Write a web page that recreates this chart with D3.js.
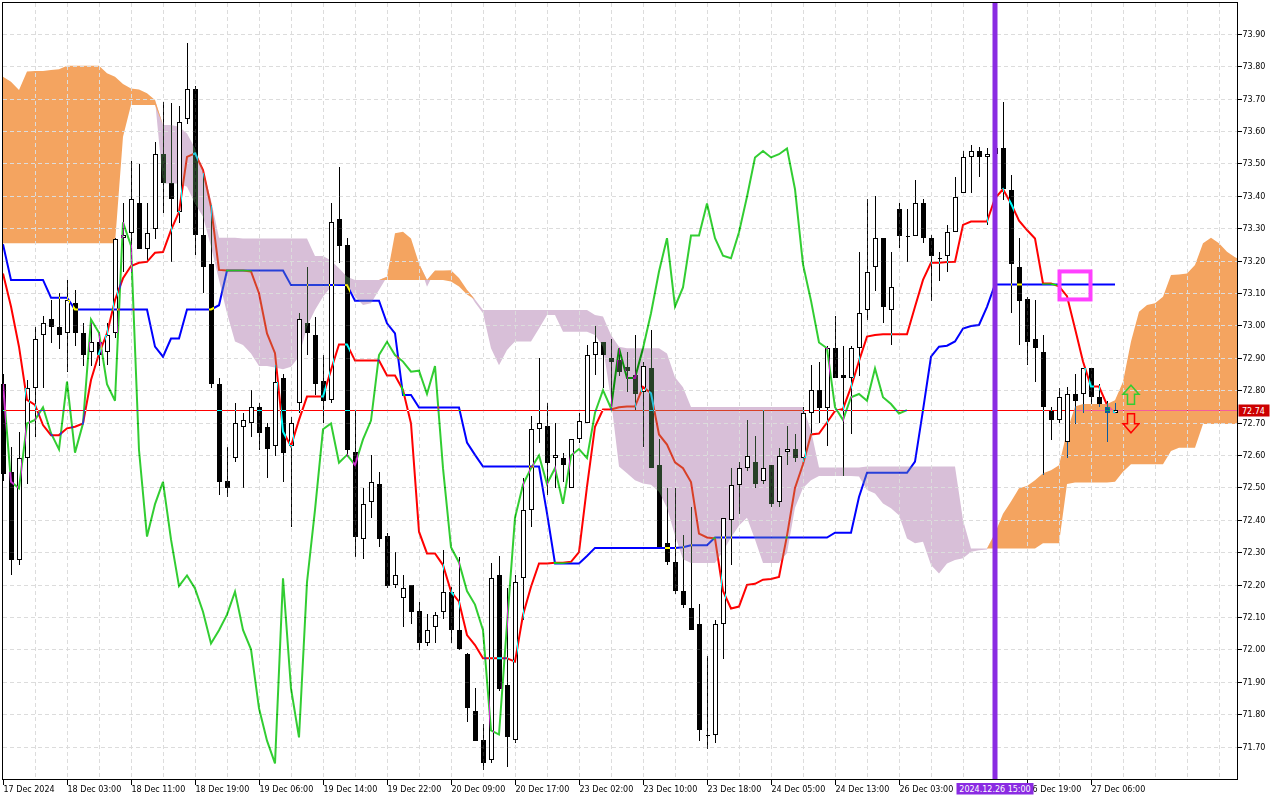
<!DOCTYPE html>
<html>
<head>
<meta charset="utf-8">
<script src="https://cdn.jsdelivr.net/npm/d3@7"></script>
<style>
body { margin: 0; background: #fff; }
svg { display: block; }
text { font-family: "DejaVu Sans", sans-serif; font-size: 8px; }
</style>
</head>
<body>
<div id="container"></div>
<script>
//DATA (H1 bars, index 0 = left edge)
const opens = [72.82,72.548,72.276,72.589,72.805,72.969,73.018,72.996,72.977,73.068,
 72.977,72.918,72.948,72.918,72.977,73.268,73.286,73.376,73.236,73.296,
 73.528,73.438,73.349,73.636,73.728,73.279,73.189,72.819,72.52,72.589,
 72.687,72.697,72.747,72.687,72.627,72.836,72.627,72.759,73.006,72.97,
 72.828,72.769,73.327,73.248,72.61,72.339,72.456,72.509,72.35,72.197,
 72.157,72.197,72.118,72.018,72.07,72.116,72.178,72.06,71.987,71.81,
 71.72,71.658,72.229,71.89,71.72,72.219,72.43,72.679,72.689,72.589,
 72.589,72.497,72.648,72.697,72.908,72.949,72.898,72.893,72.87,72.847,
 72.795,72.868,72.568,72.327,72.268,72.18,72.129,72.077,71.737,71.737,
 72.077,72.398,72.508,72.559,72.577,72.52,72.569,72.455,72.608,72.618,
 72.59,72.73,72.8,72.746,72.929,72.848,72.837,72.929,73.047,73.179,
 73.269,73.047,73.359,73.277,73.277,73.376,73.269,73.207,73.215,73.287,
 73.407,73.518,73.538,73.518,73.528,73.546,73.418,73.179,73.08,72.957,
 72.917,72.737,72.708,72.641,72.787,72.787,72.867,72.778,72.747,72.728]

const highs = [72.85,72.625,72.67,72.83,72.996,73.029,73.078,73.099,73.14,73.109,
 73.006,73.006,72.975,73.006,73.27,73.376,73.507,73.497,73.376,73.567,
 73.688,73.685,73.677,73.87,73.738,73.47,73.37,72.836,72.625,72.759,
 72.728,72.80,72.759,72.697,72.877,72.85,72.718,73.037,73.181,73.027,
 72.908,73.376,73.49,73.268,72.74,72.497,72.6,72.548,72.358,72.30,
 72.229,72.20,72.147,72.11,72.116,72.306,72.193,72.286,71.99,71.88,
 71.768,72.267,72.288,72.188,72.229,72.528,72.72,72.898,72.759,72.697,
 72.607,72.65,72.728,72.939,72.998,72.95,72.957,72.929,72.918,72.97,
 72.888,72.986,72.65,72.498,72.498,72.352,72.44,72.14,71.98,72.089,
 72.406,72.559,72.577,72.708,72.657,72.738,72.57,72.62,72.69,72.666,
 72.748,72.876,72.888,72.937,73.029,72.937,72.937,73.227,73.389,73.399,
 73.27,73.227,73.376,73.359,73.448,73.389,73.279,73.227,73.31,73.457,
 73.538,73.558,73.551,73.546,73.58,73.69,73.464,73.269,73.088,73.078,
 72.97,72.749,72.805,72.81,72.849,72.867,72.867,72.818,72.767,72.76]

const lows = [72.52,72.229,72.26,72.51,72.656,72.806,72.944,72.928,72.857,72.936,
 72.874,72.874,72.874,72.877,72.96,73.165,73.165,73.236,73.201,73.267,
 73.346,73.196,73.317,73.62,73.217,73.099,72.808,72.476,72.47,72.579,
 72.497,72.656,72.615,72.528,72.597,72.517,72.379,72.728,72.908,72.785,
 72.697,72.76,73.191,72.595,72.286,72.278,72.406,72.317,72.188,72.188,
 72.068,72.078,71.998,72.01,72.018,72.095,72.018,71.999,71.777,71.718,
 71.627,71.648,71.872,71.638,71.71,72.09,72.378,72.638,72.476,72.497,
 72.517,72.497,72.638,72.697,72.847,72.806,72.749,72.842,72.795,72.739,
 72.625,72.559,72.315,72.26,72.171,72.129,72.059,71.717,71.692,71.711,
 71.97,72.26,72.419,72.549,72.498,72.51,72.44,72.44,72.569,72.577,
 72.577,72.666,72.7,72.626,72.837,72.535,72.666,72.842,73.016,73.107,
 73.006,72.939,73.238,73.196,73.277,73.255,73.076,73.138,73.165,73.287,
 73.407,73.407,73.457,73.31,73.45,73.387,73.037,72.939,72.878,72.826,
 72.538,72.646,72.697,72.589,72.695,72.728,72.757,72.747,72.639,72.728]

const closes = [72.54,72.276,72.589,72.805,72.957,73.006,72.996,72.969,73.078,72.977,
 72.907,72.948,72.907,72.969,73.267,73.279,73.389,73.236,73.286,73.528,
 73.438,73.389,73.626,73.728,73.279,73.179,72.819,72.517,72.497,72.697,
 72.708,72.747,72.667,72.617,72.826,72.607,72.697,73.018,72.977,72.818,
 72.767,73.318,73.246,72.615,72.348,72.448,72.517,72.339,72.195,72.228,
 72.188,72.116,72.018,72.059,72.107,72.178,72.06,72.0,71.818,71.718,
 71.648,72.219,71.879,71.728,72.207,72.43,72.679,72.697,72.576,72.6,
 72.569,72.648,72.706,72.908,72.949,72.908,72.888,72.857,72.86,72.788,
 72.874,72.559,72.315,72.268,72.18,72.138,72.059,71.75,71.737,72.077,
 72.406,72.508,72.559,72.598,72.51,72.559,72.449,72.598,72.618,72.59,
 72.73,72.8,72.744,72.929,72.837,72.837,72.929,73.037,73.166,73.269,
 73.058,73.117,73.277,73.277,73.376,73.269,73.215,73.207,73.287,73.397,
 73.518,73.538,73.518,73.528,73.546,73.42,73.188,73.076,72.947,72.929,
 72.747,72.708,72.778,72.788,72.767,72.867,72.778,72.757,72.728,72.738]

//ICHIMOKU LINES
const tenkan = [73.16,73.058,72.934,72.77,72.754,72.692,72.661,72.661,72.682,72.687,
 72.697,72.831,72.913,72.975,73.078,73.145,73.183,73.193,73.196,73.224,
 73.226,73.294,73.35,73.52,73.531,73.479,73.366,73.171,73.169,73.169,
 73.169,73.166,73.099,72.975,72.914,72.672,72.627,72.708,72.78,72.78,
 72.78,72.862,72.941,72.941,72.891,72.891,72.891,72.891,72.845,72.845,
 72.80,72.697,72.363,72.296,72.296,72.26,72.178,72.147,72.044,72.013,
 71.972,71.972,71.972,71.972,71.962,72.106,72.193,72.265,72.265,72.267,
 72.267,72.27,72.30,72.502,72.687,72.74,72.74,72.747,72.749,72.749,
 72.81,72.79,72.663,72.632,72.577,72.559,72.516,72.357,72.345,72.342,
 72.18,72.126,72.132,72.199,72.202,72.215,72.217,72.223,72.351,72.498,
 72.571,72.663,72.666,72.70,72.736,72.742,72.809,72.89,72.965,72.97,
 72.972,72.972,72.972,72.972,73.057,73.14,73.193,73.193,73.195,73.196,
 73.31,73.32,73.32,73.32,73.392,73.42,73.376,73.323,73.294,73.268,
 73.129,73.129,73.12,73.09,72.99,72.888,72.811,72.811,72.754,72.728]

const kijun = [73.25,73.14,73.14,73.14,73.14,73.14,73.085,73.085,73.085,73.049,
 73.049,73.049,73.049,73.049,73.049,73.049,73.049,73.049,73.049,72.934,
 72.903,72.959,72.959,73.049,73.049,73.049,73.049,73.062,73.169,73.169,
 73.169,73.169,73.169,73.169,73.169,73.169,73.124,73.124,73.124,73.124,
 73.124,73.124,73.124,73.124,73.076,73.076,73.076,73.076,73.006,72.975,
 72.785,72.785,72.746,72.746,72.746,72.746,72.746,72.746,72.638,72.60,
 72.564,72.564,72.564,72.564,72.564,72.564,72.564,72.564,72.42,72.265,
 72.265,72.265,72.265,72.288,72.313,72.313,72.313,72.313,72.313,72.313,
 72.313,72.313,72.313,72.313,72.313,72.315,72.321,72.321,72.321,72.345,
 72.345,72.345,72.345,72.345,72.345,72.345,72.345,72.345,72.345,72.345,
 72.345,72.345,72.345,72.345,72.36,72.36,72.36,72.47,72.545,72.545,
 72.545,72.545,72.545,72.545,72.579,72.738,72.903,72.934,72.937,72.95,
 72.99,72.998,73.001,73.057,73.126,73.126,73.126,73.126,73.126,73.126,
 73.126,73.126,73.126,73.126,73.126,73.126,73.126,73.126,73.126,73.126]

const spanA = [73.767,73.752,73.726,73.783,73.785,73.785,73.788,73.79,73.801,73.801,
 73.801,73.801,73.801,73.778,73.767,73.745,73.731,73.728,73.716,73.695,
 73.438,73.438,73.438,73.428,73.376,73.335,73.243,73.14,73.037,72.95,
 72.939,72.913,72.874,72.874,72.87,72.864,72.872,72.903,72.996,73.047,
 73.088,73.119,73.124,73.124,73.088,73.063,73.068,73.109,73.15,73.284,
 73.289,73.268,73.191,73.119,73.169,73.169,73.17,73.146,73.11,73.07,
 73.037,72.929,72.877,72.924,72.95,72.95,72.95,72.99,73.032,73.032,
 72.98,72.98,72.98,72.98,72.97,72.934,72.77,72.564,72.543,72.522,
 72.512,72.508,72.486,72.437,72.351,72.278,72.266,72.266,72.266,72.266,
 72.303,72.345,72.382,72.406,72.339,72.266,72.266,72.266,72.297,72.437,
 72.498,72.522,72.535,72.535,72.535,72.535,72.535,72.533,72.492,72.481,
 72.45,72.435,72.414,72.342,72.327,72.332,72.26,72.234,72.265,72.276,
 72.281,72.301,72.306,72.308,72.358,72.418,72.456,72.497,72.504,72.522,
 72.543,72.553,72.568,72.672,72.749,72.757,72.757,72.757,72.757,72.769,
 72.826,72.95,73.042,73.063,73.068,73.088,73.155,73.157,73.16,73.186,
 73.253,73.27,73.253,73.227,73.21,73.20]

const spanB = [73.253,73.253,73.253,73.253,73.253,73.253,73.253,73.253,73.253,73.253,
 73.253,73.253,73.253,73.253,73.253,73.582,73.68,73.68,73.68,73.68,
 73.618,73.618,73.613,73.592,73.546,73.479,73.387,73.27,73.27,73.27,
 73.268,73.268,73.268,73.268,73.268,73.268,73.268,73.268,73.268,73.214,
 73.214,73.20,73.176,73.15,73.14,73.14,73.14,73.14,73.14,73.14,
 73.14,73.14,73.14,73.14,73.14,73.14,73.135,73.12,73.095,73.08,
 73.047,73.047,73.047,73.047,73.047,73.047,73.047,73.047,73.047,73.047,
 73.047,73.047,73.047,73.047,73.032,73.027,72.97,72.934,72.929,72.929,
 72.929,72.929,72.929,72.913,72.84,72.809,72.748,72.748,72.748,72.748,
 72.748,72.748,72.748,72.748,72.748,72.748,72.748,72.748,72.748,72.748,
 72.748,72.675,72.561,72.561,72.561,72.561,72.561,72.561,72.564,72.564,
 72.564,72.564,72.564,72.564,72.564,72.564,72.564,72.564,72.564,72.564,
 72.399,72.311,72.311,72.311,72.311,72.311,72.311,72.311,72.311,72.311,
 72.327,72.327,72.327,72.51,72.515,72.515,72.515,72.515,72.515,72.517,
 72.548,72.571,72.571,72.571,72.571,72.571,72.612,72.622,72.622,72.622,
 72.695,72.695,72.695,72.695,72.695,72.695]

const chikouShift = 26

//AXIS LABELS (the 26 Dec 11:00 slot sits under the date tag and is not shown)
const priceTicks = [71.70,71.80,71.90,72.00,72.10,72.20,72.30,72.40,72.50,72.60,72.70,72.80,
 72.90,73.00,73.10,73.20,73.30,73.40,73.50,73.60,73.70,73.80,73.90]
const labelBars = [0,8,16,24,32,40,48,56,64,72,80,88,96,104,112,128,136]
const timeLabels = ['17 Dec 2024','18 Dec 03:00','18 Dec 11:00','18 Dec 19:00','19 Dec 06:00',
 '19 Dec 14:00','19 Dec 22:00','20 Dec 09:00','20 Dec 17:00','23 Dec 02:00','23 Dec 10:00',
 '23 Dec 18:00','24 Dec 05:00','24 Dec 13:00','26 Dec 03:00','26 Dec 19:00','27 Dec 06:00']

//MARKERS
const lastPrice = 72.74
const markerBar = 124
const markerLabel = '2024.12.26 15:00'
const signalBox = {bar: 134, price: 73.123}
const signalArrows = [{bar: 141, price: 72.815, dir: 'up'}, {bar: 141, price: 72.668, dir: 'down'}]

//BOX
const w = 1280
const h = 800
const plotL = 2.5, plotT = 2.5, plotR = 1237.5, plotB = 779.5

//DEFINE SCALES
const x = d3.scaleLinear().domain([0, 154]).range([3, 1235])
const y = d3.scaleLinear().domain([71.70, 73.90]).range([746.5, 33.7])

const svg = d3.select('#container')
    .append('svg')
    .attr('width', w)
    .attr('height', h)

svg.append('rect')
    .attr('width', w)
    .attr('height', h)
    .attr('fill', '#fff')

svg.append('clipPath')
    .attr('id', 'plot-area')
    .append('rect')
    .attr('x', plotL)
    .attr('y', plotT)
    .attr('width', plotR - plotL)
    .attr('height', plotB - plotT)

//CLOUD
const cloudIdx = d3.range(spanA.length)
const cloud = svg.append('g').attr('clip-path', 'url(#plot-area)')

cloud.append('path')
    .datum(cloudIdx)
    .attr('fill', '#d8bfd8')
    .attr('d', d3.area()
        .x(i => x(i))
        .y0(i => y(spanA[i]))
        .y1(i => y(Math.max(spanA[i], spanB[i]))))

cloud.append('path')
    .datum(cloudIdx)
    .attr('fill', '#f4a460')
    .attr('d', d3.area()
        .x(i => x(i))
        .y0(i => y(spanB[i]))
        .y1(i => y(Math.max(spanA[i], spanB[i]))))

//GRID
const grid = svg.append('g')
    .attr('stroke', '#dcdcdc')
    .attr('stroke-dasharray', '4,3')
    .attr('shape-rendering', 'crispEdges')

grid.selectAll('line.h')
    .data(priceTicks)
    .join('line')
    .attr('x1', plotL)
    .attr('x2', plotR)
    .attr('y1', d => Math.round(y(d)) + 0.5)
    .attr('y2', d => Math.round(y(d)) + 0.5)

grid.selectAll('line.v')
    .data(d3.range(4, 155, 4))
    .join('line')
    .attr('x1', d => x(d) + 0.5)
    .attr('x2', d => x(d) + 0.5)
    .attr('y1', plotT)
    .attr('y2', plotB)

//everything below is painted like MT4 does it: inverted pen over the cloud
const ink = svg.append('g')

//PRICE LINE
ink.append('line')
    .attr('x1', plotL)
    .attr('x2', plotR)
    .attr('y1', Math.round(y(lastPrice)) + 0.5)
    .attr('y2', Math.round(y(lastPrice)) + 0.5)
    .attr('stroke', '#00ffff')
    .style('mix-blend-mode', 'difference')

//CANDLES
d3.range(closes.length).forEach(i => {
    const cx = Math.round(x(i))
    const o = y(opens[i]), c = y(closes[i])
    const top = Math.round(Math.min(o, c))
    const bot = Math.max(Math.round(Math.max(o, c)), top + 1)
    const hi = Math.round(y(highs[i]))
    const lo = Math.round(y(lows[i]))
    const bull = closes[i] >= opens[i]

    let wick = ''
    if (hi < top) wick += 'M' + (cx + 0.5) + ',' + hi + 'V' + top
    if (lo > bot) wick += 'M' + (cx + 0.5) + ',' + bot + 'V' + lo
    if (wick) ink.append('path')
        .attr('d', wick)
        .attr('stroke', '#fff')
        .attr('shape-rendering', 'crispEdges')
        .style('mix-blend-mode', 'difference')

    if (bull) {
        ink.append('rect')
            .attr('x', cx - 2).attr('y', top)
            .attr('width', 5).attr('height', bot - top)
            .attr('fill', '#fff')
        ink.append('path')
            .attr('d', 'M' + (cx - 1.5) + ',' + (top + 0.5) + 'h4v' + Math.max(bot - top - 1, 0) + 'h-4Z')
            .attr('fill', 'none')
            .attr('stroke', '#fff')
            .attr('shape-rendering', 'crispEdges')
            .style('mix-blend-mode', 'difference')
    } else {
        ink.append('rect')
            .attr('x', cx - 2).attr('y', top)
            .attr('width', 5).attr('height', bot - top)
            .attr('fill', '#fff')
            .attr('shape-rendering', 'crispEdges')
            .style('mix-blend-mode', 'difference')
    }
})

//LINES
const bars = d3.range(closes.length)

ink.append('path')
    .datum(d3.range(chikouShift, closes.length))
    .attr('fill', 'none')
    .attr('stroke', '#cd32cd')
    .attr('stroke-width', 2)
    .style('mix-blend-mode', 'difference')
    .attr('d', d3.line().x(i => x(i - chikouShift)).y(i => y(closes[i])))

ink.append('path')
    .datum(bars)
    .attr('fill', 'none')
    .attr('stroke', '#ffff00')
    .attr('stroke-width', 2)
    .style('mix-blend-mode', 'difference')
    .attr('d', d3.line().x(i => x(i)).y(i => y(kijun[i])))

ink.append('path')
    .datum(bars)
    .attr('fill', 'none')
    .attr('stroke', '#00ffff')
    .attr('stroke-width', 2)
    .style('mix-blend-mode', 'difference')
    .attr('d', d3.line().x(i => x(i)).y(i => y(tenkan[i])))

//MARKERS
svg.append('rect')
    .attr('x', x(markerBar) - 2.5)
    .attr('y', plotT)
    .attr('width', 5)
    .attr('height', plotB - plotT)
    .attr('fill', '#8a2be2')

svg.append('rect')
    .attr('x', x(signalBox.bar) - 15.5)
    .attr('y', y(signalBox.price) - 14)
    .attr('width', 31)
    .attr('height', 28)
    .attr('fill', 'none')
    .attr('stroke', '#ff40ff')
    .attr('stroke-width', 4)

const arrowShape = [[0, 0], [8, 9], [3.5, 9], [3.5, 19], [-3.5, 19], [-3.5, 9], [-8, 9]]
svg.selectAll('path.arrow')
    .data(signalArrows)
    .join('path')
    .attr('class', 'arrow')
    .attr('fill', 'none')
    .attr('stroke', d => d.dir === 'up' ? '#32cd32' : '#ff0000')
    .attr('stroke-width', 1.5)
    .attr('d', d => {
        const s = d.dir === 'up' ? 1 : -1
        return d3.line()(arrowShape.map(p => [x(d.bar) + p[0], y(d.price) + s * p[1]])) + 'Z'
    })

//FRAME
svg.append('rect')
    .attr('x', plotL)
    .attr('y', plotT)
    .attr('width', plotR - plotL)
    .attr('height', plotB - plotT)
    .attr('fill', 'none')
    .attr('stroke', '#000')
    .attr('shape-rendering', 'crispEdges')

//GENERATE AXES
const yaxis = d3.axisRight(y)
    .tickValues(priceTicks)
    .tickSize(4)
    .tickPadding(1)
    .tickFormat(d => d.toFixed(2))

svg.append('g')
    .attr('transform', 'translate(' + plotR + ',0)')
    .call(yaxis)
    .call(g => g.select('.domain').remove())
    .call(g => g.selectAll('text').attr('font-family', 'DejaVu Sans').attr('font-size', 8).attr('fill', '#000'))
    .call(g => g.selectAll('line').attr('stroke', '#000').attr('shape-rendering', 'crispEdges'))

const xaxis = d3.axisBottom(x)
    .tickValues(labelBars)
    .tickSize(5)
    .tickPadding(2)
    .tickFormat((d, k) => timeLabels[k])

svg.append('g')
    .attr('transform', 'translate(0,' + plotB + ')')
    .call(xaxis)
    .call(g => g.select('.domain').remove())
    .call(g => g.selectAll('text').attr('text-anchor', 'start').attr('x', 0)
        .attr('font-family', 'DejaVu Sans').attr('font-size', 8).attr('fill', '#000'))
    .call(g => g.selectAll('line').attr('stroke', '#000').attr('shape-rendering', 'crispEdges'))

//PRICE TAG
const py = Math.round(y(lastPrice)) + 0.5
svg.append('rect')
    .attr('x', 1238.5)
    .attr('y', py - 6)
    .attr('width', 31)
    .attr('height', 12)
    .attr('fill', '#cc0000')
svg.append('text')
    .attr('x', 1242)
    .attr('y', py + 3)
    .attr('fill', '#fff')
    .text(lastPrice.toFixed(2))

//DATE TAG
svg.append('rect')
    .attr('x', x(markerBar) - 38.5)
    .attr('y', 783)
    .attr('width', 77)
    .attr('height', 11.5)
    .attr('fill', '#8a2be2')
svg.append('text')
    .attr('x', x(markerBar))
    .attr('y', 792)
    .attr('text-anchor', 'middle')
    .attr('fill', '#fff')
    .text(markerLabel)
</script>
</body>
</html>
